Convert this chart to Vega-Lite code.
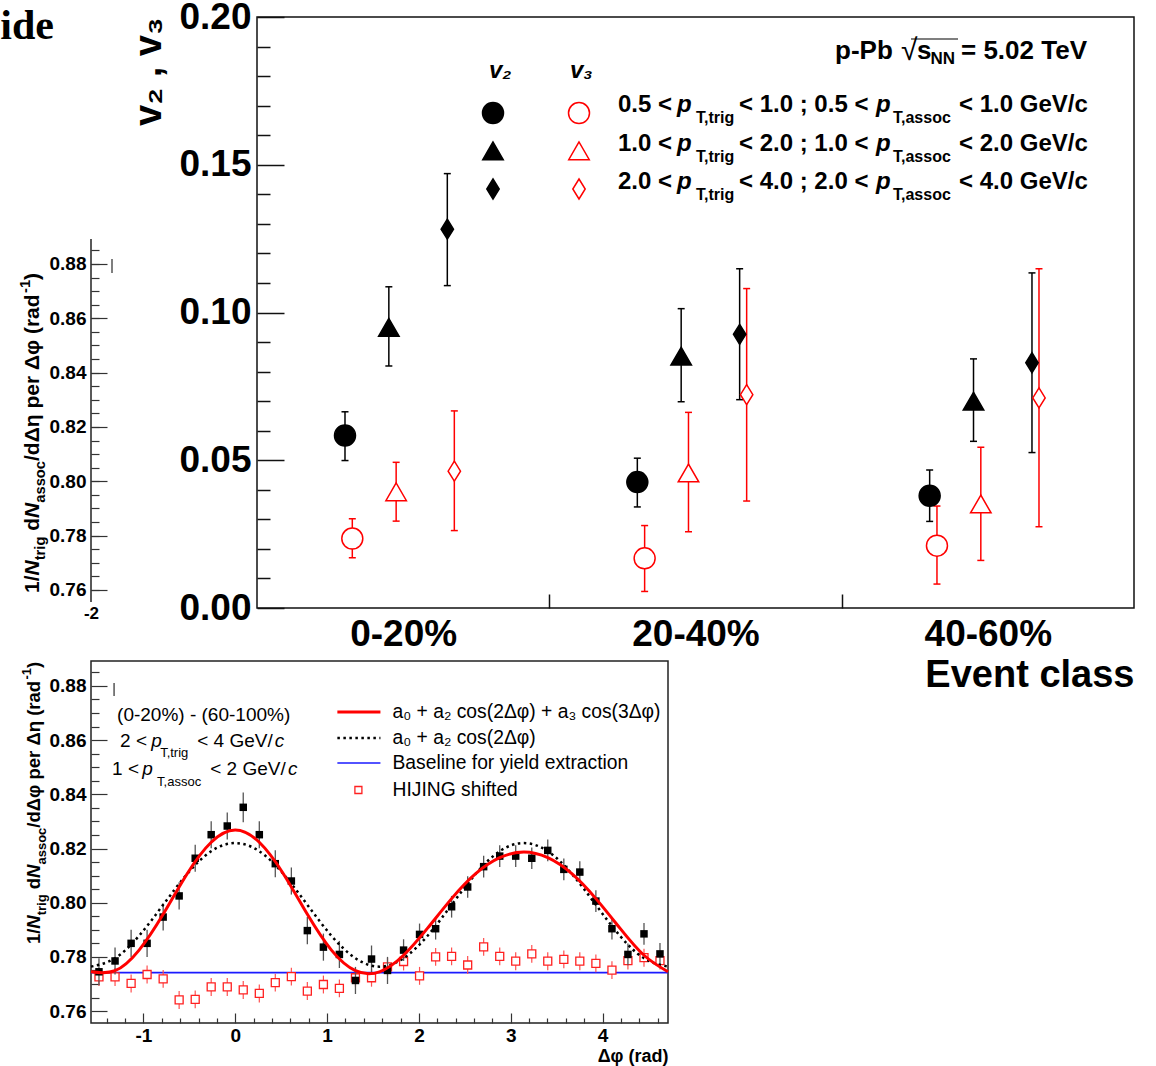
{
"$schema": "https://vega.github.io/schema/vega-lite/v6.json",
"background": "#ffffff",
"padding": {"left": 0, "top": -3, "right": 5, "bottom": 0},
"config": {"view": {"stroke": null}, "font": "Liberation Sans", "axis": {"grid": false, "domain": false, "labelColor": "#000000", "tickColor": "#000000", "titleColor": "#000000"}},
"columns": 2,
"align": "none",
"bounds": "flush",
"spacing": {"row": 53, "column": -411},
"datasets": {
"main": [
{"ec":"0-20%","x":0.301,"obs":"v2","pt":"0.5-1.0","val":0.0584,"lo":0.0499,"hi":0.0664},
{"ec":"0-20%","x":0.451,"obs":"v2","pt":"1.0-2.0","val":0.0950,"lo":0.0819,"hi":0.1087},
{"ec":"0-20%","x":0.651,"obs":"v2","pt":"2.0-4.0","val":0.1282,"lo":0.1091,"hi":0.1470},
{"ec":"20-40%","x":1.301,"obs":"v2","pt":"0.5-1.0","val":0.0426,"lo":0.0342,"hi":0.0507},
{"ec":"20-40%","x":1.451,"obs":"v2","pt":"1.0-2.0","val":0.0852,"lo":0.0698,"hi":0.1013},
{"ec":"20-40%","x":1.651,"obs":"v2","pt":"2.0-4.0","val":0.0926,"lo":0.0705,"hi":0.1148},
{"ec":"40-60%","x":2.301,"obs":"v2","pt":"0.5-1.0","val":0.0380,"lo":0.0293,"hi":0.0467},
{"ec":"40-60%","x":2.451,"obs":"v2","pt":"1.0-2.0","val":0.0700,"lo":0.0564,"hi":0.0843},
{"ec":"40-60%","x":2.651,"obs":"v2","pt":"2.0-4.0","val":0.0830,"lo":0.0526,"hi":0.1134},
{"ec":"0-20%","x":0.326,"obs":"v3","pt":"0.5-1.0","val":0.0235,"lo":0.0170,"hi":0.0302},
{"ec":"0-20%","x":0.476,"obs":"v3","pt":"1.0-2.0","val":0.0393,"lo":0.0294,"hi":0.0493},
{"ec":"0-20%","x":0.675,"obs":"v3","pt":"2.0-4.0","val":0.0463,"lo":0.0262,"hi":0.0667},
{"ec":"20-40%","x":1.326,"obs":"v3","pt":"0.5-1.0","val":0.0168,"lo":0.0056,"hi":0.0279},
{"ec":"20-40%","x":1.476,"obs":"v3","pt":"1.0-2.0","val":0.0457,"lo":0.0258,"hi":0.0662},
{"ec":"20-40%","x":1.675,"obs":"v3","pt":"2.0-4.0","val":0.0722,"lo":0.0362,"hi":0.1081},
{"ec":"40-60%","x":2.326,"obs":"v3","pt":"0.5-1.0","val":0.0211,"lo":0.0081,"hi":0.0345},
{"ec":"40-60%","x":2.476,"obs":"v3","pt":"1.0-2.0","val":0.0352,"lo":0.0161,"hi":0.0544},
{"ec":"40-60%","x":2.675,"obs":"v3","pt":"2.0-4.0","val":0.0711,"lo":0.0275,"hi":0.1148}
],
"m_legm": [
{"x":0.8073,"y":0.1675,"obs":"v2","pt":"0.5-1.0"},
{"x":0.8073,"y":0.1547,"obs":"v2","pt":"1.0-2.0"},
{"x":0.8073,"y":0.1418,"obs":"v2","pt":"2.0-4.0"},
{"x":1.1015,"y":0.1675,"obs":"v3","pt":"0.5-1.0"},
{"x":1.1015,"y":0.1547,"obs":"v3","pt":"1.0-2.0"},
{"x":1.1015,"y":0.1418,"obs":"v3","pt":"2.0-4.0"}
],
"m_txt": [
{"x":1.2349,"y":0.17022,"t":"0.5 <"},{"x":1.6488,"y":0.17022,"t":"< 1.0 ; 0.5 <"},{"x":2.4014,"y":0.17022,"t":"< 1.0 GeV/c"},
{"x":1.2349,"y":0.15702,"t":"1.0 <"},{"x":1.6488,"y":0.15702,"t":"< 2.0 ; 1.0 <"},{"x":2.4014,"y":0.15702,"t":"< 2.0 GeV/c"},
{"x":1.2349,"y":0.14416,"t":"2.0 <"},{"x":1.6488,"y":0.14416,"t":"< 4.0 ; 2.0 <"},{"x":2.4014,"y":0.14416,"t":"< 4.0 GeV/c"}
],
"m_p": [
{"x":1.4367,"y":0.17022,"t":"p"},{"x":2.1175,"y":0.17022,"t":"p"},
{"x":1.4367,"y":0.15702,"t":"p"},{"x":2.1175,"y":0.15702,"t":"p"},
{"x":1.4367,"y":0.14416,"t":"p"},{"x":2.1175,"y":0.14416,"t":"p"}
],
"m_sub": [
{"x":1.5017,"y":0.16582,"t":"T,trig"},{"x":2.1756,"y":0.16582,"t":"T,assoc"},
{"x":1.5017,"y":0.15262,"t":"T,trig"},{"x":2.1756,"y":0.15262,"t":"T,assoc"},
{"x":1.5017,"y":0.13976,"t":"T,trig"},{"x":2.1756,"y":0.13976,"t":"T,assoc"}
],
"m_head": [{"x":0.7937,"y":0.1817,"t":"v₂"},{"x":1.0707,"y":0.1817,"t":"v₃"}],
"m_big": [{"x":1.9772,"y":0.18849,"t":"p-Pb"},{"x":2.2577,"y":0.18849,"t":"s"},{"x":2.4082,"y":0.18849,"t":"= 5.02 TeV"}],
"m_sqrt": [{"x":2.2030,"y":0.18849,"t":"√"}],
"m_nn": [{"x":2.3040,"y":0.18579,"t":"NN"}],
"m_bar": [{"x":2.2372,"x2":2.3980,"y":0.19255}],
"pa_line": [{"x":-2,"lo":0.75558,"hi":0.8892}],
"pa_stray": [{"x":-1.79,"lo":0.8767,"hi":0.8818}],
"pa_ide": [{"x":-2.37,"y":0.9676,"t":"ide"}],
"pa_t_n": [{"x":-2.58,"y":0.75889,"t":"1/"},{"x":-2.58,"y":0.78179,"t":"d"},{"x":-2.58,"y":0.80748,"t":"/dΔη per Δφ (rad"},{"x":-2.58,"y":0.87414,"t":")"}],
"pa_t_i": [{"x":-2.58,"y":0.76533,"t":"N"},{"x":-2.58,"y":0.78654,"t":"N"}],
"pa_t_s": [{"x":-2.50,"y":0.77093,"t":"trig"},{"x":-2.50,"y":0.79213,"t":"assoc"}],
"pa_t_sup": [{"x":-2.65,"y":0.86932,"t":"-1"}],
"corr": [
{"dphi":-1.484,"y":0.7745,"ylo":0.7695,"yhi":0.7795,"h":0.7726,"hlo":0.7693,"hhi":0.7759},
{"dphi":-1.309,"y":0.7785,"ylo":0.7735,"yhi":0.7835,"h":0.7726,"hlo":0.7693,"hhi":0.7759},
{"dphi":-1.134,"y":0.7850,"ylo":0.7800,"yhi":0.7900,"h":0.7702,"hlo":0.7669,"hhi":0.7735},
{"dphi":-0.960,"y":0.7850,"ylo":0.7800,"yhi":0.7900,"h":0.7735,"hlo":0.7702,"hhi":0.7768},
{"dphi":-0.785,"y":0.7947,"ylo":0.7897,"yhi":0.7997,"h":0.7719,"hlo":0.7686,"hhi":0.7752},
{"dphi":-0.611,"y":0.8025,"ylo":0.7975,"yhi":0.8075,"h":0.7641,"hlo":0.7608,"hhi":0.7674},
{"dphi":-0.436,"y":0.8164,"ylo":0.8114,"yhi":0.8214,"h":0.7643,"hlo":0.7610,"hhi":0.7676},
{"dphi":-0.262,"y":0.8251,"ylo":0.8201,"yhi":0.8301,"h":0.7689,"hlo":0.7656,"hhi":0.7722},
{"dphi":-0.087,"y":0.8283,"ylo":0.8233,"yhi":0.8333,"h":0.7689,"hlo":0.7656,"hhi":0.7722},
{"dphi":0.087,"y":0.8352,"ylo":0.8297,"yhi":0.8407,"h":0.7678,"hlo":0.7645,"hhi":0.7711},
{"dphi":0.262,"y":0.8251,"ylo":0.8201,"yhi":0.8301,"h":0.7665,"hlo":0.7632,"hhi":0.7698},
{"dphi":0.436,"y":0.8144,"ylo":0.8094,"yhi":0.8194,"h":0.7705,"hlo":0.7672,"hhi":0.7738},
{"dphi":0.611,"y":0.8080,"ylo":0.8030,"yhi":0.8130,"h":0.7727,"hlo":0.7694,"hhi":0.7760},
{"dphi":0.785,"y":0.7897,"ylo":0.7847,"yhi":0.7947,"h":0.7674,"hlo":0.7641,"hhi":0.7707},
{"dphi":0.960,"y":0.7836,"ylo":0.7786,"yhi":0.7886,"h":0.7698,"hlo":0.7665,"hhi":0.7731},
{"dphi":1.134,"y":0.7809,"ylo":0.7759,"yhi":0.7859,"h":0.7684,"hlo":0.7651,"hhi":0.7717},
{"dphi":1.309,"y":0.7713,"ylo":0.7663,"yhi":0.7763,"h":0.7723,"hlo":0.7690,"hhi":0.7756},
{"dphi":1.484,"y":0.7792,"ylo":0.7742,"yhi":0.7842,"h":0.7723,"hlo":0.7690,"hhi":0.7756},
{"dphi":1.658,"y":0.7750,"ylo":0.7700,"yhi":0.7800,"h":0.7763,"hlo":0.7730,"hhi":0.7796},
{"dphi":1.833,"y":0.7825,"ylo":0.7785,"yhi":0.7865,"h":0.7783,"hlo":0.7750,"hhi":0.7816},
{"dphi":2.007,"y":0.7883,"ylo":0.7843,"yhi":0.7923,"h":0.7730,"hlo":0.7697,"hhi":0.7763},
{"dphi":2.182,"y":0.7904,"ylo":0.7864,"yhi":0.7944,"h":0.7800,"hlo":0.7767,"hhi":0.7833},
{"dphi":2.356,"y":0.7985,"ylo":0.7945,"yhi":0.8025,"h":0.7802,"hlo":0.7769,"hhi":0.7835},
{"dphi":2.531,"y":0.8058,"ylo":0.8018,"yhi":0.8098,"h":0.7770,"hlo":0.7737,"hhi":0.7803},
{"dphi":2.705,"y":0.8133,"ylo":0.8093,"yhi":0.8173,"h":0.7837,"hlo":0.7804,"hhi":0.7870},
{"dphi":2.880,"y":0.8172,"ylo":0.8132,"yhi":0.8212,"h":0.7802,"hlo":0.7769,"hhi":0.7835},
{"dphi":3.054,"y":0.8172,"ylo":0.8132,"yhi":0.8212,"h":0.7784,"hlo":0.7751,"hhi":0.7817},
{"dphi":3.229,"y":0.8164,"ylo":0.8124,"yhi":0.8204,"h":0.7811,"hlo":0.7778,"hhi":0.7844},
{"dphi":3.403,"y":0.8193,"ylo":0.8153,"yhi":0.8233,"h":0.7784,"hlo":0.7751,"hhi":0.7817},
{"dphi":3.578,"y":0.8123,"ylo":0.8083,"yhi":0.8163,"h":0.7791,"hlo":0.7758,"hhi":0.7824},
{"dphi":3.752,"y":0.8113,"ylo":0.8073,"yhi":0.8153,"h":0.7784,"hlo":0.7751,"hhi":0.7817},
{"dphi":3.927,"y":0.8006,"ylo":0.7966,"yhi":0.8046,"h":0.7776,"hlo":0.7743,"hhi":0.7809},
{"dphi":4.102,"y":0.7904,"ylo":0.7864,"yhi":0.7944,"h":0.7751,"hlo":0.7718,"hhi":0.7784},
{"dphi":4.276,"y":0.7809,"ylo":0.7769,"yhi":0.7849,"h":0.7786,"hlo":0.7753,"hhi":0.7819},
{"dphi":4.451,"y":0.7885,"ylo":0.7845,"yhi":0.7925,"h":0.7797,"hlo":0.7764,"hhi":0.7830},
{"dphi":4.625,"y":0.7811,"ylo":0.7771,"yhi":0.7851,"h":0.7786,"hlo":0.7753,"hhi":0.7819}
],
"fits": [
{"phi":-1.5708,"full":0.7745,"cos2":0.7764},{"phi":-1.3090,"full":0.7749,"cos2":0.7795},{"phi":-1.0472,"full":0.7825,"cos2":0.7878},
{"phi":-0.7854,"full":0.7957,"cos2":0.7992},{"phi":-0.5236,"full":0.8107,"cos2":0.8106},{"phi":-0.2618,"full":0.8223,"cos2":0.8190},
{"phi":0.0,"full":0.8268,"cos2":0.8220},{"phi":0.2618,"full":0.8223,"cos2":0.8190},{"phi":0.5236,"full":0.8107,"cos2":0.8106},
{"phi":0.7854,"full":0.7957,"cos2":0.7992},{"phi":1.0472,"full":0.7825,"cos2":0.7878},{"phi":1.3090,"full":0.7749,"cos2":0.7795},
{"phi":1.5708,"full":0.7745,"cos2":0.7764},{"phi":1.8326,"full":0.7806,"cos2":0.7795},{"phi":2.0944,"full":0.7906,"cos2":0.7878},
{"phi":2.3562,"full":0.8015,"cos2":0.7992},{"phi":2.6180,"full":0.8107,"cos2":0.8106},{"phi":2.8798,"full":0.8166,"cos2":0.8190},
{"phi":3.1416,"full":0.8187,"cos2":0.8220},{"phi":3.4034,"full":0.8166,"cos2":0.8190},{"phi":3.6652,"full":0.8107,"cos2":0.8106},
{"phi":3.9270,"full":0.8015,"cos2":0.7992},{"phi":4.1888,"full":0.7906,"cos2":0.7878},{"phi":4.4506,"full":0.7806,"cos2":0.7795},
{"phi":4.7124,"full":0.7745,"cos2":0.7764}
],
"b_base": [{"base":0.7742}],
"b_leg_line": [{"x":1.112,"x2":1.581,"y":0.87039,"fit":"full"},{"x":1.112,"x2":1.581,"y":0.86079,"fit":"cos2"},{"x":1.112,"x2":1.581,"y":0.85156,"fit":"base"}],
"b_leg_sq": [{"x":1.341,"y":0.84159}],
"b_leg_txt": [{"x":1.712,"y":0.87039,"t":"a₀ + a₂ cos(2Δφ) + a₃ cos(3Δφ)"},{"x":1.712,"y":0.86079,"t":"a₀ + a₂ cos(2Δφ)"},{"x":1.712,"y":0.85156,"t":"Baseline for yield extraction"},{"x":1.712,"y":0.84159,"t":"HIJING shifted"}],
"b_txt": [{"x":-1.287,"y":0.86928,"t":"(0-20%) - (60-100%)"},{"x":-1.254,"y":0.85968,"t":"2 <"},{"x":-0.414,"y":0.85968,"t":"< 4 GeV/"},{"x":-1.341,"y":0.84934,"t":"1 <"},{"x":-0.273,"y":0.84934,"t":"< 2 GeV/"}],
"b_it": [{"x":-0.916,"y":0.85968,"t":"p"},{"x":0.43,"y":0.85968,"t":"c"},{"x":-1.014,"y":0.84934,"t":"p"},{"x":0.575,"y":0.84934,"t":"c"}],
"b_sub": [{"x":-0.818,"y":0.85525,"t":"T,trig"},{"x":-0.851,"y":0.84454,"t":"T,assoc"}],
"b_t_n": [{"x":-2.192,"y":0.78472,"t":"1/"},{"x":-2.192,"y":0.80496,"t":"d"},{"x":-2.192,"y":0.8277,"t":"/dΔφ per Δη (rad"},{"x":-2.192,"y":0.88663,"t":")"}],
"b_t_i": [{"x":-2.192,"y":0.79041,"t":"N"},{"x":-2.192,"y":0.80913,"t":"N"}],
"b_t_s": [{"x":-2.105,"y":0.79536,"t":"trig"},{"x":-2.105,"y":0.81408,"t":"assoc"}],
"b_t_sup": [{"x":-2.268,"y":0.88235,"t":"-1"}],
"b_stray": [{"x":-1.3195,"lo":0.8763,"hi":0.8811}]
},
"concat": [
{
"width": 30, "height": 591,
"resolve": {"axis": {"x": "independent", "y": "independent"}},
"layer": [
{"data": {"name": "pa_line"}, "mark": {"type": "rule", "color": "#222222", "strokeWidth": 1.5},
 "encoding": {
  "x": {"field": "x", "type": "quantitative", "scale": {"domain": [-2, -1.7], "nice": false, "zero": false},
        "axis": {"orient": "bottom", "values": [-2], "labelExpr": "'-2'", "ticks": false, "labelFontSize": 17, "labelFontWeight": "bold", "labelPadding": -3, "labelFlush": false, "title": null}},
  "y": {"field": "lo", "type": "quantitative", "scale": {"domain": [0.75337, 0.97091], "nice": false, "zero": false},
        "axis": {"orient": "left", "values": [0.76,0.78,0.8,0.82,0.84,0.86,0.88], "format": ".2f", "tickSize": -16, "tickWidth": 1.2, "tickColor": "#333333", "labelFontSize": 19, "labelFontWeight": "bold", "labelPadding": 21, "title": null}},
  "y2": {"field": "hi"}}},
{"data": {"name": "pa_line"}, "mark": {"type": "rule", "opacity": 0},
 "encoding": {
  "x": {"field": "x", "type": "quantitative", "axis": null},
  "y": {"field": "lo", "type": "quantitative", "axis": {"orient": "left", "values": [0.76,0.765,0.77,0.775,0.78,0.785,0.79,0.795,0.8,0.805,0.81,0.815,0.82,0.825,0.83,0.835,0.84,0.845,0.85,0.855,0.86,0.865,0.87,0.875,0.88,0.885], "labels": false, "tickSize": -8, "tickWidth": 1.2, "tickColor": "#333333", "title": null}},
  "y2": {"field": "hi"}}},
{"data": {"name": "pa_stray"}, "mark": {"type": "rule", "color": "#555555", "strokeWidth": 1.5},
 "encoding": {"x": {"field": "x", "type": "quantitative", "axis": null}, "y": {"field": "lo", "type": "quantitative", "axis": null}, "y2": {"field": "hi"}}},
{"data": {"name": "pa_ide"}, "mark": {"type": "text", "align": "right", "baseline": "middle", "font": "Liberation Serif", "fontSize": 42, "fontWeight": "bold", "color": "#000000"},
 "encoding": {"x": {"field": "x", "type": "quantitative", "axis": null}, "y": {"field": "y", "type": "quantitative", "axis": null}, "text": {"field": "t"}}},
{"data": {"name": "pa_t_n"}, "mark": {"type": "text", "angle": 270, "align": "left", "baseline": "middle", "fontSize": 21, "fontWeight": "bold", "color": "#000000"},
 "encoding": {"x": {"field": "x", "type": "quantitative", "axis": null}, "y": {"field": "y", "type": "quantitative", "axis": null}, "text": {"field": "t"}}},
{"data": {"name": "pa_t_i"}, "mark": {"type": "text", "angle": 270, "align": "left", "baseline": "middle", "fontSize": 21, "fontWeight": "bold", "fontStyle": "italic", "color": "#000000"},
 "encoding": {"x": {"field": "x", "type": "quantitative", "axis": null}, "y": {"field": "y", "type": "quantitative", "axis": null}, "text": {"field": "t"}}},
{"data": {"name": "pa_t_s"}, "mark": {"type": "text", "angle": 270, "align": "left", "baseline": "middle", "fontSize": 14.7, "fontWeight": "bold", "color": "#000000"},
 "encoding": {"x": {"field": "x", "type": "quantitative", "axis": null}, "y": {"field": "y", "type": "quantitative", "axis": null}, "text": {"field": "t"}}},
{"data": {"name": "pa_t_sup"}, "mark": {"type": "text", "angle": 270, "align": "left", "baseline": "middle", "fontSize": 14.7, "fontWeight": "bold", "color": "#000000"},
 "encoding": {"x": {"field": "x", "type": "quantitative", "axis": null}, "y": {"field": "y", "type": "quantitative", "axis": null}, "text": {"field": "t"}}}
]
},
{
"width": 877, "height": 591,
"view": {"stroke": "#111111", "strokeWidth": 1.5},
"resolve": {"axis": {"x": "independent", "y": "independent"}},
"layer": [
{"data": {"name": "main"}, "mark": {"type": "rule", "strokeWidth": 1.5},
 "encoding": {
  "x": {"field": "x", "type": "quantitative", "scale": {"domain": [0, 3], "nice": false, "zero": false},
        "axis": {"orient": "bottom", "values": [1, 2], "labels": false, "tickSize": -14, "tickWidth": 1.5, "tickColor": "#111111", "title": null}},
  "y": {"field": "lo", "type": "quantitative", "scale": {"domain": [0, 0.2], "nice": false, "zero": false},
        "axis": {"orient": "left", "values": [0.01,0.02,0.03,0.04,0.06,0.07,0.08,0.09,0.11,0.12,0.13,0.14,0.16,0.17,0.18,0.19], "labels": false, "tickSize": -13, "tickWidth": 1.5, "tickColor": "#111111", "title": null}},
  "y2": {"field": "hi"},
  "color": {"field": "obs", "type": "nominal", "scale": {"domain": ["v2", "v3"], "range": ["#000000", "#ff0000"]}, "legend": null}}},
{"data": {"name": "main"}, "mark": {"type": "tick", "orient": "horizontal", "size": 7, "thickness": 1.5, "opacity": 1},
 "encoding": {"x": {"field": "x", "type": "quantitative", "axis": null}, "y": {"field": "lo", "type": "quantitative", "axis": null},
  "color": {"field": "obs", "type": "nominal", "legend": null}}},
{"data": {"name": "main"}, "mark": {"type": "tick", "orient": "horizontal", "size": 7, "thickness": 1.5, "opacity": 1},
 "encoding": {"x": {"field": "x", "type": "quantitative", "axis": null}, "y": {"field": "hi", "type": "quantitative", "axis": null},
  "color": {"field": "obs", "type": "nominal", "legend": null}}},
{"data": {"name": "main"}, "mark": {"type": "point", "filled": true, "strokeWidth": 1.5, "opacity": 1},
 "encoding": {
  "x": {"field": "x", "type": "quantitative",
        "axis": {"orient": "bottom", "values": [0.5, 1.5, 2.5], "labelExpr": "datum.value < 1 ? '0-20%' : datum.value < 2 ? '20-40%' : '40-60%'", "ticks": false, "labelFontSize": 37, "labelFontWeight": "bold", "labelPadding": 8, "labelFlush": false,
                 "title": "Event class", "titleFontSize": 38, "titleFontWeight": "bold", "titleAnchor": "end", "titlePadding": 4}},
  "y": {"field": "val", "type": "quantitative",
        "axis": {"orient": "left", "values": [0, 0.05, 0.1, 0.15, 0.2], "format": ".2f", "tickSize": -27, "tickWidth": 1.5, "tickColor": "#111111", "labelFontSize": 37, "labelFontWeight": "bold", "labelPadding": 33,
                 "title": "v₂ , v₃", "titleFontSize": 38, "titleFontWeight": "bold", "titleAnchor": "end", "titlePadding": 10}},
  "shape": {"field": "pt", "type": "nominal", "scale": {"domain": ["0.5-1.0", "1.0-2.0", "2.0-4.0"], "range": ["circle", "triangle-up", "M0,-1L0.62,0L0,1L-0.62,0Z"]}, "legend": null},
  "size": {"field": "pt", "type": "ordinal", "scale": {"domain": ["0.5-1.0", "1.0-2.0", "2.0-4.0"], "range": [441, 400, 420]}, "legend": null},
  "fill": {"field": "obs", "type": "nominal", "scale": {"domain": ["v2", "v3"], "range": ["#000000", "#ffffff"]}, "legend": null},
  "stroke": {"field": "obs", "type": "nominal", "scale": {"domain": ["v2", "v3"], "range": ["#000000", "#ff0000"]}, "legend": null}}},
{"data": {"name": "m_legm"}, "mark": {"type": "point", "filled": true, "strokeWidth": 1.5, "opacity": 1},
 "encoding": {
  "x": {"field": "x", "type": "quantitative", "axis": null},
  "y": {"field": "y", "type": "quantitative", "axis": null},
  "shape": {"field": "pt", "type": "nominal", "legend": null},
  "size": {"field": "pt", "type": "ordinal", "legend": null},
  "fill": {"field": "obs", "type": "nominal", "legend": null},
  "stroke": {"field": "obs", "type": "nominal", "legend": null}}},
{"data": {"name": "m_txt"}, "mark": {"type": "text", "align": "left", "baseline": "middle", "fontSize": 24, "fontWeight": "bold", "color": "#000000"},
 "encoding": {"x": {"field": "x", "type": "quantitative", "axis": null}, "y": {"field": "y", "type": "quantitative", "axis": null}, "text": {"field": "t"}}},
{"data": {"name": "m_p"}, "mark": {"type": "text", "align": "left", "baseline": "middle", "fontSize": 24, "fontWeight": "bold", "fontStyle": "italic", "color": "#000000"},
 "encoding": {"x": {"field": "x", "type": "quantitative", "axis": null}, "y": {"field": "y", "type": "quantitative", "axis": null}, "text": {"field": "t"}}},
{"data": {"name": "m_sub"}, "mark": {"type": "text", "align": "left", "baseline": "middle", "fontSize": 16, "fontWeight": "bold", "color": "#000000"},
 "encoding": {"x": {"field": "x", "type": "quantitative", "axis": null}, "y": {"field": "y", "type": "quantitative", "axis": null}, "text": {"field": "t"}}},
{"data": {"name": "m_head"}, "mark": {"type": "text", "align": "left", "baseline": "middle", "fontSize": 24, "fontWeight": "bold", "fontStyle": "italic", "color": "#000000"},
 "encoding": {"x": {"field": "x", "type": "quantitative", "axis": null}, "y": {"field": "y", "type": "quantitative", "axis": null}, "text": {"field": "t"}}},
{"data": {"name": "m_big"}, "mark": {"type": "text", "align": "left", "baseline": "middle", "fontSize": 26, "fontWeight": "bold", "color": "#000000"},
 "encoding": {"x": {"field": "x", "type": "quantitative", "axis": null}, "y": {"field": "y", "type": "quantitative", "axis": null}, "text": {"field": "t"}}},
{"data": {"name": "m_sqrt"}, "mark": {"type": "text", "align": "left", "baseline": "middle", "fontSize": 30, "color": "#000000"},
 "encoding": {"x": {"field": "x", "type": "quantitative", "axis": null}, "y": {"field": "y", "type": "quantitative", "axis": null}, "text": {"field": "t"}}},
{"data": {"name": "m_nn"}, "mark": {"type": "text", "align": "left", "baseline": "middle", "fontSize": 17, "fontWeight": "bold", "color": "#000000"},
 "encoding": {"x": {"field": "x", "type": "quantitative", "axis": null}, "y": {"field": "y", "type": "quantitative", "axis": null}, "text": {"field": "t"}}},
{"data": {"name": "m_bar"}, "mark": {"type": "rule", "color": "#000000", "strokeWidth": 1.2},
 "encoding": {"x": {"field": "x", "type": "quantitative", "axis": null}, "x2": {"field": "x2"}, "y": {"field": "y", "type": "quantitative", "axis": null}}}
]
},
{
"width": 577, "height": 362,
"view": {"stroke": "#222222", "strokeWidth": 1.5},
"resolve": {"axis": {"x": "independent", "y": "independent"}},
"layer": [
{"data": {"name": "b_base"}, "mark": {"type": "rule", "color": "#1a1aff", "strokeWidth": 1.6},
 "encoding": {"y": {"field": "base", "type": "quantitative", "scale": {"domain": [0.7556, 0.8892], "nice": false, "zero": false}, "axis": null}}},
{"data": {"name": "corr"}, "mark": {"type": "rule", "color": "#ff5050", "strokeWidth": 1.2},
 "encoding": {
  "x": {"field": "dphi", "type": "quantitative", "scale": {"domain": [-1.5708, 4.7124], "nice": false, "zero": false},
        "axis": {"orient": "bottom", "values": [-1, 0, 1, 2, 3, 4], "labelExpr": "replace(datum.label, '−', '-')", "tickSize": -10, "tickWidth": 1.2, "tickColor": "#333333", "labelFontSize": 19, "labelFontWeight": "bold", "labelPadding": 13, "labelFlush": false,
                 "title": "Δφ (rad)", "titleFontSize": 18, "titleFontWeight": "bold", "titleAnchor": "end", "titlePadding": 2}},
  "y": {"field": "hlo", "type": "quantitative",
        "axis": {"orient": "left", "values": [0.76,0.78,0.8,0.82,0.84,0.86,0.88], "format": ".2f", "tickSize": -16, "tickWidth": 1.2, "tickColor": "#333333", "labelFontSize": 19, "labelFontWeight": "bold", "labelPadding": 21, "title": null}},
  "y2": {"field": "hhi"}}},
{"data": {"name": "corr"}, "mark": {"type": "point", "shape": "square", "size": 64, "filled": true, "fill": "#ffffff", "stroke": "#ff2020", "strokeWidth": 1.3, "opacity": 1},
 "encoding": {"x": {"field": "dphi", "type": "quantitative", "axis": null}, "y": {"field": "h", "type": "quantitative", "axis": null}}},
{"data": {"name": "corr"}, "mark": {"type": "rule", "color": "#555555", "strokeWidth": 1.3},
 "encoding": {
  "x": {"field": "dphi", "type": "quantitative",
        "axis": {"orient": "bottom", "values": [-1.4,-1.2,-0.8,-0.6,-0.4,-0.2,0.2,0.4,0.6,0.8,1.2,1.4,1.6,1.8,2.2,2.4,2.6,2.8,3.2,3.4,3.6,3.8,4.2,4.4,4.6], "labels": false, "tickSize": -5, "tickWidth": 1.2, "tickColor": "#333333", "title": null}},
  "y": {"field": "ylo", "type": "quantitative",
        "axis": {"orient": "left", "values": [0.765,0.77,0.775,0.785,0.79,0.795,0.805,0.81,0.815,0.825,0.83,0.835,0.845,0.85,0.855,0.865,0.87,0.875,0.885], "labels": false, "tickSize": -8, "tickWidth": 1.2, "tickColor": "#333333", "title": null}},
  "y2": {"field": "yhi"}}},
{"data": {"name": "corr"}, "mark": {"type": "point", "shape": "square", "size": 56, "filled": true, "color": "#000000", "opacity": 1},
 "encoding": {"x": {"field": "dphi", "type": "quantitative", "axis": null}, "y": {"field": "y", "type": "quantitative", "axis": null}}},
{"data": {"name": "fits"}, "mark": {"type": "line", "color": "#000000", "strokeWidth": 2.5, "strokeDash": [2.5, 3.5], "interpolate": "natural"},
 "encoding": {"x": {"field": "phi", "type": "quantitative", "axis": null}, "y": {"field": "cos2", "type": "quantitative", "axis": null}}},
{"data": {"name": "fits"}, "mark": {"type": "line", "color": "#ff0000", "strokeWidth": 3, "interpolate": "natural"},
 "encoding": {"x": {"field": "phi", "type": "quantitative", "axis": null}, "y": {"field": "full", "type": "quantitative", "axis": null}}},
{"data": {"name": "b_leg_line"}, "transform": [{"filter": "datum.fit == 'full'"}], "mark": {"type": "rule", "color": "#ff0000", "strokeWidth": 3},
 "encoding": {"x": {"field": "x", "type": "quantitative", "axis": null}, "x2": {"field": "x2"}, "y": {"field": "y", "type": "quantitative", "axis": null}}},
{"data": {"name": "b_leg_line"}, "transform": [{"filter": "datum.fit == 'cos2'"}], "mark": {"type": "rule", "color": "#000000", "strokeWidth": 2.5, "strokeDash": [2.5, 3.5]},
 "encoding": {"x": {"field": "x", "type": "quantitative", "axis": null}, "x2": {"field": "x2"}, "y": {"field": "y", "type": "quantitative", "axis": null}}},
{"data": {"name": "b_leg_line"}, "transform": [{"filter": "datum.fit == 'base'"}], "mark": {"type": "rule", "color": "#1a1aff", "strokeWidth": 1.6},
 "encoding": {"x": {"field": "x", "type": "quantitative", "axis": null}, "x2": {"field": "x2"}, "y": {"field": "y", "type": "quantitative", "axis": null}}},
{"data": {"name": "b_leg_sq"}, "mark": {"type": "point", "shape": "square", "size": 49, "filled": true, "fill": "#ffffff", "stroke": "#ff2020", "strokeWidth": 1.3, "opacity": 1},
 "encoding": {"x": {"field": "x", "type": "quantitative", "axis": null}, "y": {"field": "y", "type": "quantitative", "axis": null}}},
{"data": {"name": "b_leg_txt"}, "mark": {"type": "text", "align": "left", "baseline": "middle", "fontSize": 19.3, "color": "#000000"},
 "encoding": {"x": {"field": "x", "type": "quantitative", "axis": null}, "y": {"field": "y", "type": "quantitative", "axis": null}, "text": {"field": "t"}}},
{"data": {"name": "b_txt"}, "mark": {"type": "text", "align": "left", "baseline": "middle", "fontSize": 19, "color": "#000000"},
 "encoding": {"x": {"field": "x", "type": "quantitative", "axis": null}, "y": {"field": "y", "type": "quantitative", "axis": null}, "text": {"field": "t"}}},
{"data": {"name": "b_it"}, "mark": {"type": "text", "align": "left", "baseline": "middle", "fontSize": 19, "fontStyle": "italic", "color": "#000000"},
 "encoding": {"x": {"field": "x", "type": "quantitative", "axis": null}, "y": {"field": "y", "type": "quantitative", "axis": null}, "text": {"field": "t"}}},
{"data": {"name": "b_sub"}, "mark": {"type": "text", "align": "left", "baseline": "middle", "fontSize": 13, "color": "#000000"},
 "encoding": {"x": {"field": "x", "type": "quantitative", "axis": null}, "y": {"field": "y", "type": "quantitative", "axis": null}, "text": {"field": "t"}}},
{"data": {"name": "b_t_n"}, "mark": {"type": "text", "angle": 270, "align": "left", "baseline": "middle", "fontSize": 18.5, "fontWeight": "bold", "color": "#000000"},
 "encoding": {"x": {"field": "x", "type": "quantitative", "axis": null}, "y": {"field": "y", "type": "quantitative", "axis": null}, "text": {"field": "t"}}},
{"data": {"name": "b_t_i"}, "mark": {"type": "text", "angle": 270, "align": "left", "baseline": "middle", "fontSize": 18.5, "fontWeight": "bold", "fontStyle": "italic", "color": "#000000"},
 "encoding": {"x": {"field": "x", "type": "quantitative", "axis": null}, "y": {"field": "y", "type": "quantitative", "axis": null}, "text": {"field": "t"}}},
{"data": {"name": "b_t_s"}, "mark": {"type": "text", "angle": 270, "align": "left", "baseline": "middle", "fontSize": 13, "fontWeight": "bold", "color": "#000000"},
 "encoding": {"x": {"field": "x", "type": "quantitative", "axis": null}, "y": {"field": "y", "type": "quantitative", "axis": null}, "text": {"field": "t"}}},
{"data": {"name": "b_t_sup"}, "mark": {"type": "text", "angle": 270, "align": "left", "baseline": "middle", "fontSize": 13, "fontWeight": "bold", "color": "#000000"},
 "encoding": {"x": {"field": "x", "type": "quantitative", "axis": null}, "y": {"field": "y", "type": "quantitative", "axis": null}, "text": {"field": "t"}}},
{"data": {"name": "b_stray"}, "mark": {"type": "rule", "color": "#555555", "strokeWidth": 1.5},
 "encoding": {"x": {"field": "x", "type": "quantitative", "axis": null}, "y": {"field": "lo", "type": "quantitative", "axis": null}, "y2": {"field": "hi"}}}
]
}
]
}
